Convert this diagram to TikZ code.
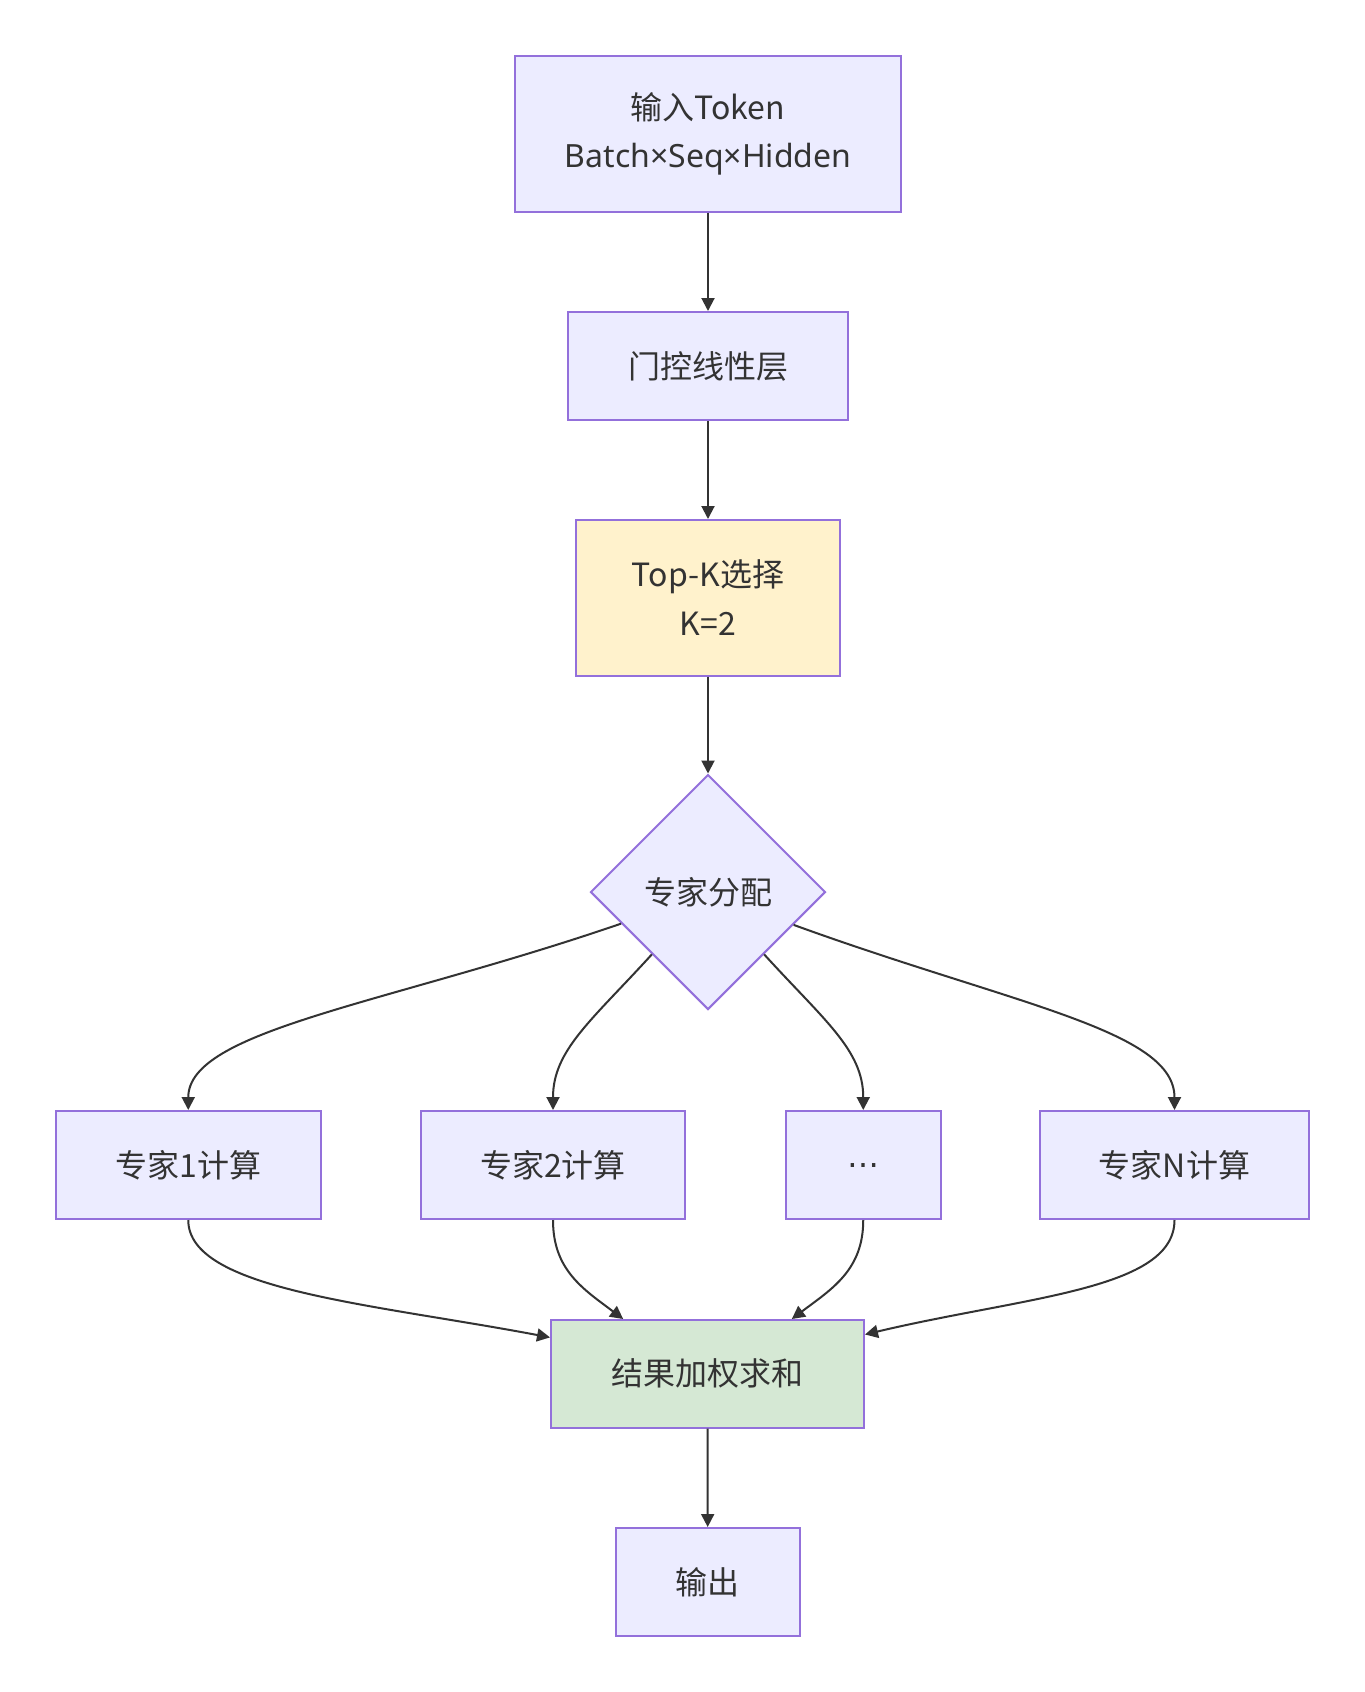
\documentclass[tikz,border=0pt]{standalone}
\usepackage{fontspec}
\setmainfont{Noto Sans CJK SC}
\newfontfamily\latinfont{Noto Sans}
\newfontfamily\dotsfont{DejaVu Sans}
\usetikzlibrary{arrows.meta,shapes.geometric}
\definecolor{boxfill}{HTML}{ECECFF}
\definecolor{boxline}{HTML}{9370DB}
\definecolor{topkfill}{HTML}{FFF2CC}
\definecolor{sumfill}{HTML}{D5E8D4}
\definecolor{edgecol}{HTML}{333333}
\begin{document}
\begin{tikzpicture}[x=0.5pt, y=-0.5pt,
        box/.style={draw=boxline, fill=boxfill, line width=1pt, inner sep=0pt,
          text=edgecol, align=center, font=\fontsize{16}{24.3}\selectfont},
        decide/.style={box, diamond, aspect=1, minimum width=117.5pt, minimum height=117.5pt},
        flow/.style={draw=edgecol, line width=1pt, -{Triangle[length=6.5pt,width=6.5pt]}}
        ]
        \useasboundingbox [fill=white] (0,0) rectangle (1365,1692);
        \node [box, name=in, minimum width=193pt, minimum height=77.75pt] at (708,133.75)
          {输入Token\\{\latinfont Batch×Seq×Hidden}};
        \node [box, name=gate, minimum width=140.2pt, minimum height=54pt] at (708,366) {门控线性层};
        \node [box, name=topk, fill=topkfill, minimum width=131.75pt, minimum height=77.75pt] at (708,597.75)
          {Top-K选择\\K=2};
        \node [decide, name=dist] at (708,892) {专家分配};
        \node [box, name=e1, minimum width=132.25pt, minimum height=54pt] at (188.25,1165) {专家1计算};
        \node [box, name=e2, minimum width=132pt, minimum height=54pt] at (553,1165) {专家2计算};
        \node [box, name=dots, minimum width=77.75pt, minimum height=54pt] at (863.25,1165) {\dotsfont …};
        \node [box, name=en, minimum width=134.5pt, minimum height=54pt] at (1174.5,1165) {专家N计算};
        \node [box, name=sum, fill=sumfill, minimum width=156.5pt, minimum height=53.75pt] at (707.5,1373.75)
          {结果加权求和};
        \node [box, name=out, minimum width=91.75pt, minimum height=54pt] at (707.75,1582) {输出};

        \draw [flow] (in) -- (gate);
        \draw [flow] (gate) -- (topk);
        \draw [flow] (topk) -- (dist);
        \draw [flow] (dist.200) .. controls +(-236,81) and +(0,-80) .. (e1.north);
        \draw [flow] (dist.228) .. controls +(-60,66) and +(0,-60) .. (e2.north);
        \draw [flow] (dist.312) .. controls +(60,66) and +(0,-60) .. (dots.north);
        \draw [flow] (dist.339) .. controls +(220,80) and +(0,-80) .. (en.north);
        \draw [flow] (e1.south) .. controls +(0,70) and +(-180,-34) .. (sum.167);
        \draw [flow] (e2.south) .. controls +(0,50) and +(-40,-30) .. (sum.147);
        \draw [flow] (dots.south) .. controls +(0,50) and +(40,-30) .. (sum.33);
        \draw [flow] (en.south) .. controls +(0,70) and +(160,-38) .. (sum.14);
        \draw [flow] (sum) -- (out);
      \end{tikzpicture}
\end{document}
